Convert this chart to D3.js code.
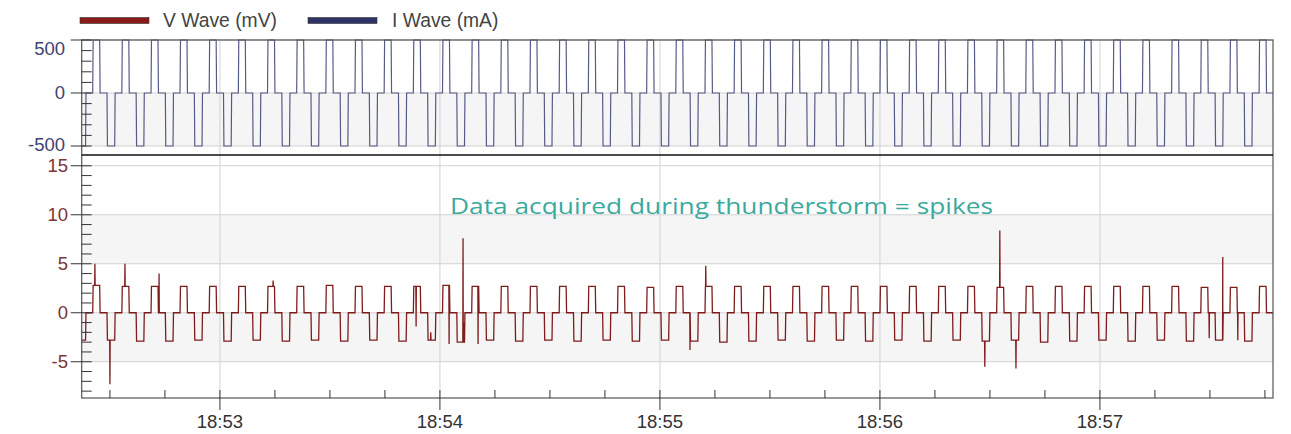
<!DOCTYPE html>
<html>
<head>
<meta charset="utf-8">
<script src="https://cdn.jsdelivr.net/npm/d3@7"></script>
<style>
  body { margin: 0; background: #fff; }
  svg { font-family: "Liberation Sans", Arial, sans-serif; }
</style>
</head>
<body>
<div id="chart"></div>
<script>
// time in seconds after 18:52:00
var xDomain = [22.3, 347.2];
var majorTicks = [60, 120, 180, 240, 300];
var tickLabels = ["18:53", "18:54", "18:55", "18:56", "18:57"];

// start of each pulse cycle (high -> zero -> low -> zero)
var cycleStarts = [17.35, 25.30, 33.25, 41.21, 49.12, 57.07, 65.02, 72.98, 80.93, 88.89,
  96.84, 104.79, 112.75, 120.70, 128.66, 136.61, 144.56, 152.52, 160.47, 168.43,
  176.38, 184.33, 192.29, 200.24, 208.20, 216.15, 224.10, 232.06, 240.01, 247.97,
  255.92, 263.87, 271.83, 279.78, 287.74, 295.69, 303.64, 311.60, 319.55, 327.51,
  335.46, 343.41];

// I wave levels (mA)
var iHigh = 500, iLow = -500;

// V wave plateau levels per cycle (mV)
var vHigh = [2.7, 2.8, 2.7, 2.7, 2.7, 2.7, 2.7, 2.7, 2.7, 2.8,
  2.7, 2.7, 2.7, 2.8, 2.7, 2.7, 2.7, 2.7, 2.7, 2.7,
  2.6, 2.7, 2.7, 2.7, 2.7, 2.7, 2.7, 2.7, 2.7, 2.7,
  2.7, 2.7, 2.6, 2.7, 2.7, 2.7, 2.7, 2.7, 2.7, 2.6,
  2.6, 2.7];
var vLow = [-2.8, -2.8, -2.9, -2.9, -2.8, -2.9, -2.8, -2.9, -2.8, -2.9,
  -2.8, -2.9, -2.8, -3.0, -2.8, -2.9, -2.8, -2.9, -2.8, -2.9,
  -2.8, -2.9, -3.0, -2.9, -2.8, -2.9, -2.8, -2.9, -2.8, -2.9,
  -2.8, -2.9, -2.8, -3.0, -2.9, -2.8, -2.9, -2.8, -2.9, -2.8,
  -2.9, -2.8];

// spikes [time, value]
var spikes = [[25.9, 5.0], [30.0, -7.3], [34.1, 5.0], [43.4, 4.0], [74.5, 3.3],
  [113.5, -1.4], [117.5, -2.0], [122.5, -3.2], [126.3, 7.6], [126.6, -1.0],
  [130.4, -3.2], [188.2, -3.8], [192.5, 4.8], [268.6, -5.5], [272.7, 8.4],
  [277.1, -5.7], [329.8, -2.6], [333.5, 5.7], [337.6, -2.8]];

var W = 1291, H = 434;
var left = 81.7, right = 1273;
var topY0 = 40, topY1 = 155, botY0 = 155, botY1 = 398;

var svg = d3.select("#chart").append("svg").attr("width", W).attr("height", H);

var x = d3.scaleLinear().domain(xDomain).range([left, right]);
var yI = d3.scaleLinear().domain([-585, 500]).range([topY1, topY0]);
var yV = d3.scaleLinear().domain([-8.7, 16.1]).range([botY1, botY0]);

//bands
function band(y, a, b) {
  svg.append("rect").attr("x", left).attr("width", right - left)
    .attr("y", y(b)).attr("height", y(a) - y(b)).attr("fill", "#f5f5f5");
}
band(yI, -500, 0);
band(yV, 5, 10);
band(yV, -5, 0);

//gridlines
var grid = svg.append("g").attr("stroke", "#d2d2d2").attr("stroke-width", 1);
majorTicks.forEach(function (t) {
  grid.append("line").attr("x1", x(t)).attr("x2", x(t)).attr("y1", topY0).attr("y2", botY1);
});
[500, 0, -500].forEach(function (v) {
  grid.append("line").attr("x1", left).attr("x2", right).attr("y1", yI(v)).attr("y2", yI(v));
});
[15, 10, 5, 0, -5].forEach(function (v) {
  grid.append("line").attr("x1", left).attr("x2", right).attr("y1", yV(v)).attr("y2", yV(v));
});

//build step series
function stepPoints(hi, lo) {
  var pts = [];
  var r = 0.12;
  cycleStarts.forEach(function (s, k) {
    var h = typeof hi === "number" ? hi : hi[k];
    var l = typeof lo === "number" ? lo : lo[k];
    pts.push([s, 0], [s + r, h], [s + 1.9, h], [s + 1.9 + r, 0],
      [s + 3.9, 0], [s + 3.9 + r, l], [s + 6.0, l], [s + 6.0 + r, 0]);
  });
  return pts;
}

// value of the step series at time t (linear between its points)
function levelAt(pts, t) {
  for (var i = 1; i < pts.length; i++) {
    if (pts[i][0] >= t) {
      var a = pts[i - 1], b = pts[i];
      return a[1] + (b[1] - a[1]) * (t - a[0]) / (b[0] - a[0]);
    }
  }
  return 0;
}

var iPts = stepPoints(iHigh, iLow);
var vStep = stepPoints(vHigh, vLow);
var vPts = vStep.slice();
spikes.forEach(function (s) {
  vPts.push([s[0] - 0.06, levelAt(vStep, s[0] - 0.06)], [s[0], s[1]],
    [s[0] + 0.06, levelAt(vStep, s[0] + 0.06)]);
});
vPts.sort(function (a, b) { return a[0] - b[0]; });

svg.append("clipPath").attr("id", "clipTop").append("rect")
  .attr("x", left).attr("y", topY0 - 1).attr("width", right - left).attr("height", topY1 - topY0 + 1);
svg.append("clipPath").attr("id", "clipBot").append("rect")
  .attr("x", left).attr("y", botY0).attr("width", right - left).attr("height", botY1 - botY0);

svg.append("path").datum(iPts)
  .attr("clip-path", "url(#clipTop)")
  .attr("fill", "none").attr("stroke", "#565a86").attr("stroke-width", 1.2)
  .attr("d", d3.line().x(function (d) { return x(d[0]); }).y(function (d) { return yI(d[1]); }));

svg.append("path").datum(vPts)
  .attr("clip-path", "url(#clipBot)")
  .attr("fill", "none").attr("stroke", "#7e1c1c").attr("stroke-width", 1.3)
  .attr("d", d3.line().x(function (d) { return x(d[0]); }).y(function (d) { return yV(d[1]); }));

//frame
svg.append("rect").attr("x", left).attr("y", topY0).attr("width", right - left).attr("height", botY1 - topY0)
  .attr("fill", "none").attr("stroke", "#555").attr("stroke-width", 1.2);
svg.append("line").attr("x1", left).attr("x2", right).attr("y1", topY1).attr("y2", topY1)
  .attr("stroke", "#111").attr("stroke-width", 1.5);

//y axes
function yAxis(y, majors, minors, color, labelX, clampTop, clampBot) {
  var g = svg.append("g").attr("stroke", "#333").attr("stroke-width", 1);
  minors.forEach(function (v) {
    g.append("line").attr("x1", left).attr("x2", left + 10).attr("y1", y(v)).attr("y2", y(v));
  });
  majors.forEach(function (v) {
    g.append("line").attr("x1", left - 11).attr("x2", left + 10).attr("y1", y(v)).attr("y2", y(v));
    var ty = Math.min(Math.max(y(v), clampTop), clampBot);
    svg.append("text").attr("x", labelX).attr("y", ty).attr("dy", "0.35em")
      .attr("text-anchor", "end").attr("fill", color).attr("font-size", 18.5).text(v);
  });
}
yAxis(yI, [500, 0, -500], [400, 300, 200, 100, -100, -200, -300, -400], "#3f4470", 65, 49, 145);
yAxis(yV, [15, 10, 5, 0, -5], d3.range(-8, 16).filter(function (v) { return v % 5 !== 0; }),
  "#7e3434", 68, 164, 400);

//x axis
var xa = svg.append("g").attr("stroke", "#333").attr("stroke-width", 1);
d3.range(30, 347, 15).forEach(function (t) {
  var major = majorTicks.indexOf(t) >= 0;
  xa.append("line").attr("x1", x(t)).attr("x2", x(t))
    .attr("y1", botY1 - 8).attr("y2", major ? botY1 + 12 : botY1);
});
majorTicks.forEach(function (t, i) {
  svg.append("text").attr("x", x(t)).attr("y", 428).attr("text-anchor", "middle")
    .attr("fill", "#333").attr("font-size", 18.5).text(tickLabels[i]);
});

//legend
var legend = [["V Wave (mV)", "#8b1a1a", 80, 163], ["I Wave (mA)", "#2f3468", 308, 392]];
legend.forEach(function (l) {
  svg.append("rect").attr("x", l[2]).attr("y", 17.5).attr("width", 69).attr("height", 6)
    .attr("fill", l[1]).attr("stroke", "#333").attr("stroke-width", 0.6);
  svg.append("text").attr("x", l[3]).attr("y", 20).attr("dy", "0.35em")
    .attr("fill", "#444").attr("font-size", 19.3).text(l[0]);
});

svg.append("text").attr("x", 450).attr("y", 214)
  .attr("font-family", "'Open Sans', sans-serif").attr("font-size", 22)
  .attr("fill", "#3aa99e").attr("textLength", 543).attr("lengthAdjust", "spacingAndGlyphs")
  .text("Data acquired during thunderstorm = spikes");
</script>
</body>
</html>
